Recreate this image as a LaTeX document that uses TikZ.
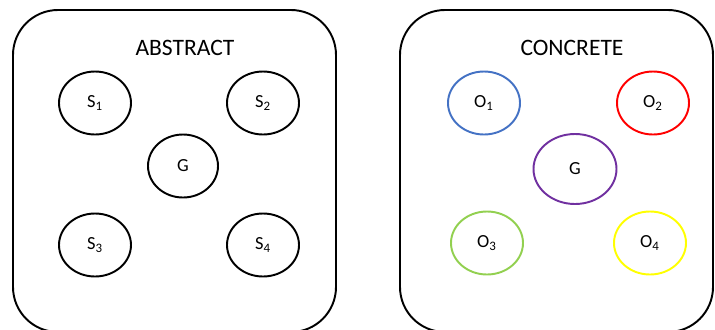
\documentclass[tikz,border=0pt]{standalone}
\usepackage{fontspec}
\setmainfont{Carlito}
\usepackage{xcolor}
\usetikzlibrary{positioning,shapes.geometric}

\definecolor{objblue}{RGB}{68,114,196}
\definecolor{objred}{RGB}{255,0,0}
\definecolor{objpurple}{RGB}{112,48,160}
\definecolor{objgreen}{RGB}{146,208,80}
\definecolor{objyellow}{RGB}{255,255,0}

\begin{document}
\begin{tikzpicture}[
		x=0.2mm, y=-0.2mm,
		panel/.style={rectangle, draw=black, line width=1.1pt, rounded corners=9mm, inner sep=0pt},
		state/.style={ellipse, draw=black, line width=1.1pt, minimum width=14.4mm, minimum height=12.6mm, inner sep=0pt, font=\fontsize{10.5}{12}\selectfont},
		title/.style={font=\fontsize{13.4}{16}\selectfont},
		]
		\clip (0,0) rectangle (715,329);

		%Panels
		\node[panel, minimum width=64.6mm, minimum height=64.4mm]	(abstract)	at (174.5,171)	{};
		\node[panel, minimum width=62.6mm, minimum height=64.4mm]	(concrete)	at (556.5,171)	{};
		\node[title]	(abstract_title)	at (185,48)	{ABSTRACT};
		\node[title]	(concrete_title)	at (572,48)	{CONCRETE};

		%Abstract
		\node[state]	(s_1)	at (95,103)		{S\textsubscript{1}};
		\node[state]	(s_2)	at (263,103)	{S\textsubscript{2}};
		\node[state, minimum width=14mm]	(g_abs)	at (183,166)	{G};
		\node[state]	(s_3)	at (95,245)		{S\textsubscript{3}};
		\node[state]	(s_4)	at (263,245)	{S\textsubscript{4}};

		%Concrete
		\node[state, draw=objblue]		(o_1)	at (484,103)	{O\textsubscript{1}};
		\node[state, draw=objred]		(o_2)	at (653,103)	{O\textsubscript{2}};
		\node[state, draw=objpurple, minimum width=16.6mm, minimum height=14mm]	(g_con)	at (575,169)	{G};
		\node[state, draw=objgreen]		(o_3)	at (487,243)	{O\textsubscript{3}};
		\node[state, draw=objyellow]	(o_4)	at (650,243)	{O\textsubscript{4}};

	\end{tikzpicture}
\end{document}
